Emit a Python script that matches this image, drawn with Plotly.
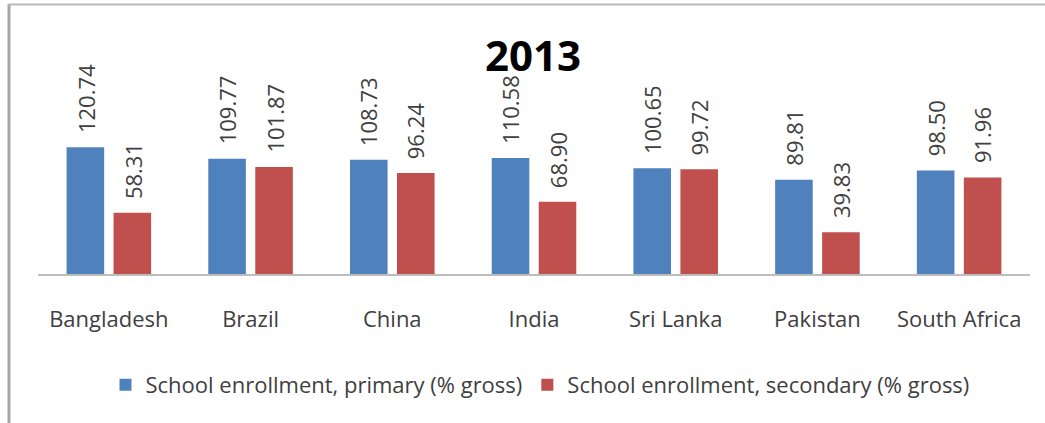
import plotly.graph_objects as go

# School enrollment by country, 2013
countries = ["Bangladesh", "Brazil", "China", "India", "Sri Lanka", "Pakistan", "South Africa"]
primary = [120.74, 109.77, 108.73, 110.58, 100.65, 89.81, 98.50]
secondary = [58.31, 101.87, 96.24, 68.90, 99.72, 39.83, 91.96]
series_names = [
    "School enrollment, primary (% gross)",
    "School enrollment, secondary (% gross)",
]
chart_title = "2013"

W, H = 1045, 423
ML, MR, MT, MB = 38, 15, 40, 149
PW, PH = W - ML - MR, H - MT - MB
Y_MAX = PH / 1.05

BLUE = "#4F81BD"
RED = "#C0504D"
TXT = "#404040"
FONT = "Open Sans, Lato, DejaVu Sans, sans-serif"


def px_x(px):
    return (px - ML) / PW


def px_y(py):
    return (H - MB - py) / PH


fig = go.Figure()
fig.add_trace(go.Bar(x=countries, y=primary, name=series_names[0],
                     marker=dict(color=BLUE, line=dict(width=0))))
fig.add_trace(go.Bar(x=countries, y=secondary, name=series_names[1],
                     marker=dict(color=RED, line=dict(width=0))))

# rotated value labels above each bar
slot = PW / len(countries) * (1 - 0.337) / 2
annotations = []
for vals, shift in ((primary, -slot / 2), (secondary, slot / 2)):
    for c, v in zip(countries, vals):
        annotations.append(dict(
            x=c, y=v, xref="x", yref="y", text=f"{v:.2f}",
            textangle=-90, showarrow=False, xanchor="center", yanchor="bottom",
            xshift=shift, yshift=12,
            font=dict(family=FONT, size=22, color=TXT),
        ))

# chart title
annotations.append(dict(
    x=px_x(533), y=px_y(54), xref="paper", yref="paper", text=f"<b>{chart_title}</b>",
    showarrow=False, xanchor="center", yanchor="middle",
    font=dict(family="Open Sans, Lato, sans-serif", size=42, color="#000000"),
))

# outer frame: left and top edges
shapes = [
    dict(type="line", xref="paper", yref="paper",
         x0=px_x(9), x1=px_x(9), y0=px_y(4), y1=px_y(H + 5),
         line=dict(color="#a6a6a6", width=3)),
    dict(type="line", xref="paper", yref="paper",
         x0=px_x(8), x1=px_x(W + 5), y0=px_y(4.5), y1=px_y(4.5),
         line=dict(color="#b8b8b8", width=2)),
]

fig.update_layout(
    width=W, height=H,
    margin=dict(l=ML, r=MR, t=MT, b=MB, pad=0),
    paper_bgcolor="white", plot_bgcolor="white",
    barmode="group", bargap=0.337, bargroupgap=0.20,
    showlegend=True,
    legend=dict(
        orientation="h", x=px_x(540), y=px_y(385),
        xanchor="center", yanchor="middle",
        font=dict(family=FONT, size=22, color=TXT),
        itemsizing="constant",
    ),
    annotations=annotations,
    shapes=shapes,
    xaxis=dict(
        showline=True, linecolor="#bdbdbd", linewidth=2,
        ticks="outside", ticklen=25, tickcolor="rgba(0,0,0,0)",
        tickfont=dict(family=FONT, size=22, color=TXT),
        showgrid=False, zeroline=False,
    ),
    yaxis=dict(
        range=[0, Y_MAX], visible=False, showgrid=False, zeroline=False,
    ),
)

fig.write_html("out.html")
